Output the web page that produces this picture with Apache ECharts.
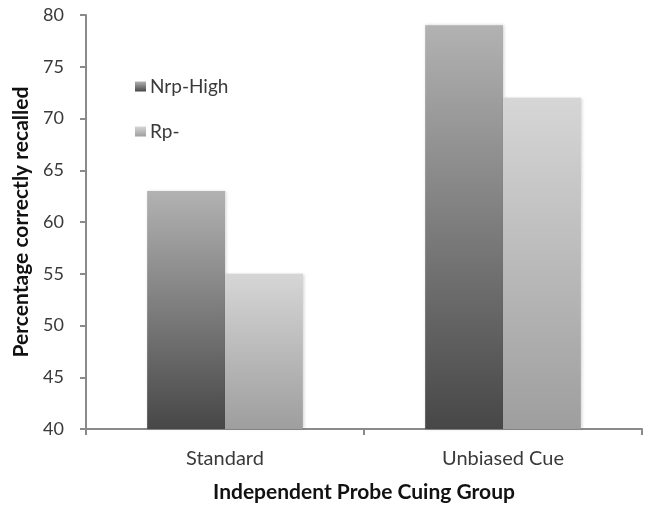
<!DOCTYPE html>
<html>
<head>
<meta charset="utf-8">
<script src="https://cdn.jsdelivr.net/npm/echarts@6/dist/echarts.min.js"></script>
<style>
  html, body { margin: 0; padding: 0; background: #fff; }
  #chart { width: 646px; height: 507px; }
</style>
</head>
<body>
<div id="chart"></div>
<script>
// Groups and recall percentages per condition
const categories = ['Standard', 'Unbiased Cue'];
const nrpHigh = [63, 79];
const rpMinus = [55, 72];
const yTicks = { min: 40, max: 80, interval: 5 };

const FONT = 'Lato, "Open Sans", sans-serif';

function vgrad(top, bottom) {
  return new echarts.graphic.LinearGradient(0, 0, 0, 1, [
    { offset: 0, color: top },
    { offset: 1, color: bottom }
  ]);
}

const chart = echarts.init(document.getElementById('chart'), null, { renderer: 'canvas' });

chart.setOption({
  animation: false,
  backgroundColor: '#ffffff',
  grid: { left: 86, right: 4, top: 15, bottom: 78, containLabel: false, outerBoundsMode: 'none' },
  legend: {
    orient: 'vertical',
    left: 130,
    top: 72,
    itemGap: 26,
    itemWidth: 11,
    itemHeight: 10,
    icon: 'rect',
    textStyle: { fontFamily: FONT, fontSize: 19, color: '#3a3a3a', padding: [0, 0, 0, -1] },
    data: ['Nrp-High', 'Rp-']
  },
  xAxis: {
    type: 'category',
    data: categories,
    axisLine: { lineStyle: { color: '#8a8a8a', width: 2 } },
    axisTick: { show: true, length: 6, alignWithLabel: false, lineStyle: { color: '#8a8a8a', width: 2 } },
    axisLabel: { fontFamily: FONT, fontSize: 20, color: '#3a3a3a', margin: 20 },
    name: 'Independent Probe Cuing Group',
    nameLocation: 'middle',
    nameGap: 53,
    nameTextStyle: { fontFamily: FONT, fontSize: 21, fontWeight: 'bold', color: '#111' }
  },
  yAxis: {
    type: 'value',
    min: yTicks.min,
    max: yTicks.max,
    interval: yTicks.interval,
    splitLine: { show: false },
    axisLine: { show: true, lineStyle: { color: '#8a8a8a', width: 2 } },
    axisTick: { show: true, length: 6, lineStyle: { color: '#8a8a8a', width: 2 } },
    axisLabel: { fontFamily: FONT, fontSize: 18, color: '#3a3a3a', margin: 22 },
    name: 'Percentage correctly recalled',
    nameLocation: 'middle',
    nameGap: 53,
    nameTextStyle: { fontFamily: FONT, fontSize: 21, fontWeight: 'bold', color: '#111' }
  },
  series: [
    {
      name: 'Nrp-High',
      type: 'bar',
      data: nrpHigh,
      barGap: '0%',
      barCategoryGap: '44%',
      itemStyle: {
        color: vgrad('#b2b2b2', '#474747'),
        shadowColor: 'rgba(0,0,0,0.18)',
        shadowBlur: 3,
        shadowOffsetX: 1
      }
    },
    {
      name: 'Rp-',
      type: 'bar',
      data: rpMinus,
      itemStyle: {
        color: vgrad('#d6d6d6', '#9e9e9e'),
        shadowColor: 'rgba(0,0,0,0.18)',
        shadowBlur: 3,
        shadowOffsetX: 1
      }
    }
  ]
});
</script>
</body>
</html>
